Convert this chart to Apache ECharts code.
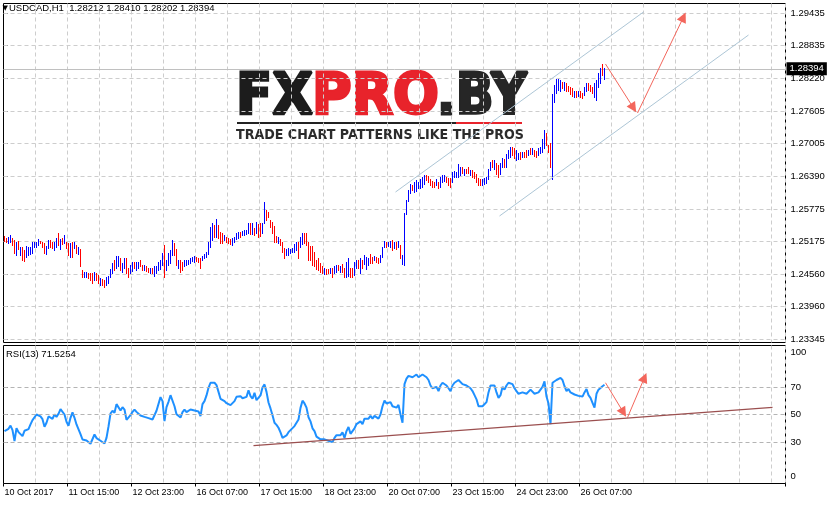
<!DOCTYPE html>
<html><head><meta charset="utf-8">
<script src="https://cdn.jsdelivr.net/npm/echarts@6/dist/echarts.min.js"></script>
<style>html,body{margin:0;padding:0;background:#fff}#c{width:829px;height:505px}</style>
</head><body><div id="c"></div><script>
// ---------- data ----------
const tickLabels = ['10 Oct 2017','11 Oct 15:00','12 Oct 23:00','16 Oct 07:00','17 Oct 15:00','18 Oct 23:00','20 Oct 07:00','23 Oct 15:00','24 Oct 23:00','26 Oct 07:00'];
const priceTicks = [1.23345,1.23960,1.24560,1.25175,1.25775,1.26390,1.27005,1.27605,1.28220,1.28835,1.29435];
const rsiTicks = [0,30,50,70,100];
const rsiLevels = [30,50,70];
const bidPrice = 1.28394;
const headerText = 'USDCAD,H1  1.28212 1.28410 1.28202 1.28394';
const rsiText = 'RSI(13) 71.5254';

const highs = [
1.2527,1.2523,1.2526,1.2528,1.2524,1.2520,1.2516,1.2518,1.2507,1.2507,
1.2501,1.2508,1.2506,1.2507,1.2516,1.2516,1.2516,1.2521,1.2518,1.2516,
1.2513,1.2508,1.2520,1.2520,1.2515,1.2516,1.2523,1.2532,1.2521,1.2523,
1.2529,1.2515,1.2513,1.2513,1.2516,1.2516,1.2510,1.2506,1.2502,1.2463,
1.2460,1.2460,1.2457,1.2457,1.2457,1.2460,1.2458,1.2454,1.2448,1.2446,
1.2445,1.2450,1.2452,1.2465,1.2477,1.2482,1.2490,1.2490,1.2485,1.2477,
1.2485,1.2485,1.2468,1.2473,1.2479,1.2479,1.2479,1.2479,1.2482,1.2473,
1.2473,1.2471,1.2468,1.2468,1.2468,1.2470,1.2471,1.2479,1.2482,1.2495,
1.2510,1.2482,1.2495,1.2501,1.2520,1.2513,1.2502,1.2483,1.2482,1.2479,
1.2483,1.2482,1.2483,1.2485,1.2488,1.2490,1.2488,1.2485,1.2485,1.2490,
1.2493,1.2498,1.2516,1.2543,1.2551,1.2548,1.2558,1.2548,1.2535,1.2532,
1.2529,1.2526,1.2523,1.2521,1.2523,1.2526,1.2532,1.2535,1.2535,1.2537,
1.2538,1.2539,1.2552,1.2551,1.2551,1.2541,1.2554,1.2549,1.2551,1.2551,
1.2591,1.2576,1.2571,1.2557,1.2554,1.2546,1.2527,1.2526,1.2521,1.2515,
1.2504,1.2502,1.2504,1.2502,1.2504,1.2512,1.2515,1.2515,1.2526,1.2533,
1.2532,1.2532,1.2515,1.2508,1.2508,1.2498,1.2482,1.2485,1.2476,1.2471,
1.2467,1.2465,1.2465,1.2467,1.2467,1.2470,1.2473,1.2473,1.2471,1.2475,
1.2467,1.2479,1.2485,1.2468,1.2467,1.2479,1.2482,1.2483,1.2485,1.2483,
1.2491,1.2488,1.2485,1.2493,1.2488,1.2490,1.2487,1.2485,1.2491,1.2507,
1.2518,1.2516,1.2516,1.2518,1.2520,1.2516,1.2516,1.2518,1.2510,1.2491,
1.2569,1.2595,1.2612,1.2625,1.2622,1.2628,1.2631,1.2628,1.2633,1.2638,
1.2641,1.2641,1.2639,1.2633,1.2630,1.2628,1.2633,1.2628,1.2638,1.2641,
1.2641,1.2638,1.2636,1.2635,1.2647,1.2649,1.2647,1.2661,1.2656,1.2656,
1.2653,1.2653,1.2656,1.2650,1.2650,1.2647,1.2643,1.2635,1.2633,1.2633,
1.2635,1.2638,1.2653,1.2666,1.2669,1.2669,1.2664,1.2659,1.2663,1.2672,
1.2670,1.2681,1.2687,1.2694,1.2694,1.2691,1.2687,1.2682,1.2684,1.2684,
1.2684,1.2687,1.2687,1.2691,1.2691,1.2687,1.2686,1.2691,1.2694,1.2709,
1.2725,1.2719,1.2697,1.2700,1.2793,1.2809,1.2821,1.2820,1.2818,1.2815,
1.2815,1.2812,1.2807,1.2806,1.2803,1.2798,1.2797,1.2797,1.2797,1.2795,
1.2806,1.2813,1.2812,1.2809,1.2806,1.2812,1.2818,1.2831,1.2840,1.2848,
1.2841];

const lows = [
1.2518,1.2515,1.2513,1.2516,1.2510,1.2495,1.2491,1.2502,1.2491,1.2482,
1.2481,1.2488,1.2491,1.2493,1.2496,1.2506,1.2507,1.2510,1.2513,1.2507,
1.2495,1.2493,1.2504,1.2506,1.2504,1.2501,1.2506,1.2510,1.2502,1.2512,
1.2513,1.2504,1.2491,1.2488,1.2488,1.2504,1.2495,1.2493,1.2471,1.2450,
1.2450,1.2450,1.2448,1.2445,1.2440,1.2445,1.2445,1.2440,1.2435,1.2435,
1.2431,1.2435,1.2440,1.2450,1.2458,1.2463,1.2467,1.2471,1.2463,1.2460,
1.2467,1.2458,1.2450,1.2457,1.2462,1.2468,1.2463,1.2468,1.2471,1.2463,
1.2463,1.2462,1.2460,1.2458,1.2457,1.2452,1.2457,1.2463,1.2465,1.2473,
1.2450,1.2463,1.2473,1.2476,1.2491,1.2491,1.2473,1.2468,1.2460,1.2463,
1.2471,1.2473,1.2475,1.2477,1.2481,1.2479,1.2481,1.2479,1.2468,1.2482,
1.2485,1.2488,1.2493,1.2507,1.2520,1.2526,1.2526,1.2523,1.2513,1.2513,
1.2520,1.2515,1.2513,1.2512,1.2510,1.2516,1.2521,1.2523,1.2526,1.2529,
1.2529,1.2531,1.2532,1.2531,1.2531,1.2529,1.2532,1.2526,1.2527,1.2532,
1.2551,1.2557,1.2562,1.2544,1.2533,1.2516,1.2515,1.2513,1.2510,1.2498,
1.2485,1.2491,1.2491,1.2495,1.2498,1.2498,1.2500,1.2485,1.2507,1.2512,
1.2513,1.2510,1.2483,1.2482,1.2473,1.2470,1.2465,1.2463,1.2460,1.2457,
1.2456,1.2456,1.2457,1.2457,1.2450,1.2457,1.2460,1.2463,1.2460,1.2460,
1.2450,1.2450,1.2452,1.2450,1.2450,1.2454,1.2468,1.2468,1.2458,1.2467,
1.2475,1.2465,1.2473,1.2477,1.2476,1.2482,1.2479,1.2476,1.2479,1.2488,
1.2506,1.2507,1.2508,1.2506,1.2500,1.2504,1.2502,1.2506,1.2485,1.2475,
1.2473,1.2568,1.2592,1.2607,1.2613,1.2610,1.2611,1.2616,1.2616,1.2619,
1.2625,1.2631,1.2628,1.2622,1.2619,1.2619,1.2622,1.2616,1.2619,1.2628,
1.2630,1.2628,1.2622,1.2619,1.2628,1.2638,1.2638,1.2638,1.2641,1.2644,
1.2641,1.2644,1.2645,1.2641,1.2638,1.2635,1.2628,1.2622,1.2622,1.2622,
1.2625,1.2626,1.2633,1.2650,1.2656,1.2653,1.2643,1.2638,1.2643,1.2656,
1.2656,1.2656,1.2672,1.2675,1.2678,1.2672,1.2669,1.2670,1.2670,1.2675,
1.2675,1.2675,1.2678,1.2681,1.2680,1.2676,1.2675,1.2678,1.2682,1.2684,
1.2691,1.2697,1.2684,1.2656,1.2634,1.2778,1.2795,1.2800,1.2798,1.2803,
1.2800,1.2797,1.2797,1.2792,1.2788,1.2787,1.2787,1.2788,1.2787,1.2784,
1.2790,1.2797,1.2800,1.2797,1.2795,1.2786,1.2781,1.2806,1.2812,1.2828,
1.2820];

const upBar = [
0,0,1,1,0,0,1,0,1,0, 0,1,1,1,1,1,1,1,0,0, 0,1,1,0,0,1,1,0,1,0, 1,0,0,1,0,1,0,1,0,0,
1,1,0,0,0,1,0,0,1,0, 0,1,1,1,1,0,1,1,0,1, 1,0,0,1,1,0,1,1,0,0, 1,0,0,1,0,1,1,1,1,1,
0,1,1,1,1,0,0,1,0,0, 1,1,1,1,1,1,0,0,0,1, 1,1,1,1,1,0,1,0,0,0, 1,0,0,0,1,1,1,1,0,1,
1,1,1,0,1,0,1,0,0,1, 1,0,0,0,0,0,0,1,0,0, 0,1,1,1,1,1,1,0,1,1, 0,0,0,0,0,0,0,0,0,0,
1,0,0,1,0,1,1,0,1,0, 0,1,1,0,0,1,1,0,1,0, 1,1,1,0,0,1,0,0,1,1, 1,0,1,1,0,1,0,1,0,1,
1,1,1,1,0,1,1,1,1,1, 1,0,0,0,0,0,1,0,1,1, 1,0,0,0,1,1,1,1,1,0, 1,0,0,1,0,0,0,0,0,1,
1,1,1,1,0,1,0,0,1,1, 0,1,1,1,0,0,1,1,0,1, 0,0,1,0,1,0,0,1,1,1, 1,0,0,0,1,1,1,1,1,0,
1,0,0,0,0,1,0,1,0,0, 1,1,0,0,0,1,1,1,1,0, 1];

const rsi = [
37.9,38.7,39.6,42.0,38.7,30.7,40.1,37.2,36.7,34.3,
38.2,38.7,39.4,42.8,45.9,46.9,50.0,50.7,48.6,46.6,
41.1,44.0,48.6,47.6,46.9,50.0,48.3,50.5,53.9,54.4,
50.0,44.7,41.8,47.6,51.5,47.6,42.8,43.7,35.8,31.9,
31.9,31.2,30.2,28.8,27.8,35.5,32.9,31.7,31.0,30.0,
29.0,33.1,41.3,50.7,52.7,51.2,57.5,56.8,52.9,55.3,
53.6,46.1,46.6,49.5,51.9,53.6,51.9,51.7,49.3,48.3,
48.3,47.8,47.4,46.6,46.4,46.4,52.7,53.9,62.6,59.7,
45.2,55.3,59.2,64.0,63.5,56.0,50.2,49.3,47.8,51.7,
53.6,51.7,53.1,53.6,53.4,52.9,52.9,52.2,48.8,57.5,
59.7,63.8,69.3,73.0,73.0,73.0,71.3,66.4,61.4,60.4,
59.7,58.2,57.0,56.8,58.0,59.7,62.8,63.3,63.3,61.8,
62.1,62.8,67.6,63.3,61.4,65.7,60.4,59.4,63.8,69.6,
71.8,66.4,58.7,54.4,49.5,44.0,42.5,40.4,37.0,33.1,
33.1,34.8,37.2,38.7,40.1,41.6,44.0,46.4,54.8,60.0,
58,55,48,45,40,38,34,35,32,31,
32,31,31,32,30,33,35,34,35,37,
33,38,41,36,35,40,43,42,45,43,
47,46,47,49,47,49,48,47,50,56,
60,58,58,59,56,57,55,57,50,44,
72,76,78,79,77,78,79,77,78,79,
80,77,75,71,69,68,70,67,71,73,
73,71,69,67,71,73,72,75,74,72,
71,71,71,69,67,64,61,56,55,56,
57,59,66,71,71,71,66,62,64,70,
68,71,73,74,72,69,67,65,64,66,
65,65,66,68,68,65,64,66,67,70,
74,63,58,43,73,74,75,76,76.5,75,
70.5,67,68.5,66,65,64.5,63.5,63.5,63,63,
66,68.5,64,62,58.5,55,65,68,67,70.5,
71.5254];

// drawn objects (bar index, price / rsi value)
const upperChannel = [[195.5,1.26091],[319.5,1.29454]];
const lowerChannel = [[247.5,1.25643],[372,1.29024]];
const priceArrows = [[[300.5,1.28483],[314.5,1.27661]],[[316.5,1.27567],[339.5,1.29360]]];
const rsiTrend = [[124.5,27.5],[384,55.1]];
const rsiArrows = [[[300.5,73.0],[309.5,51.4]],[[311.5,47.8],[320,76.8]]];

// ---------- chart ----------
const N = 391; // bar slots across the window (incl. empty right area)
const cats = Array.from({length: N}, (_, i) => String(i));
const FONT = '"Liberation Sans", Arial, sans-serif';
const GRID_LINE = '#cdcdcd';
const labelIdx = i => i % 32 === 0 && i <= 288;
const gridIdx = i => i % 16 === 0 && i > 0;

const mctx = document.createElement('canvas').getContext('2d');
function textW(t, font) { mctx.font = font; return mctx.measureText(t).width; }

const LOGO_FONT = 'bold 57px "DejaVu Sans"';
const logoParts = [
  {text: 'FX', x0: 236, x1: 313, fill: '#1c1c1c'},
  {text: 'PRO', x0: 312, x1: 439, fill: '#e8232b'},
  {text: '.BY', x0: 437, x1: 527, fill: '#262626'}
];
const TAG_FONT = 'bold 13.5px "DejaVu Sans"';
const tagText = 'TRADE CHART PATTERNS LIKE THE PROS';

const graphic = [];
logoParts.forEach(p => {
  const w = textW(p.text, LOGO_FONT);
  graphic.push({type: 'text', x: p.x0, y: 99, scaleX: (p.x1 - p.x0) / w, silent: true,
    style: {text: p.text, font: LOGO_FONT, fill: p.fill, stroke: p.fill, lineWidth: 3, lineJoin: 'round',
            align: 'left', verticalAlign: 'middle', textAlign: 'left', textVerticalAlign: 'middle'}});
});
graphic.push({type: 'rect', silent: true, shape: {x: 237, y: 122, width: 219, height: 2}, style: {fill: '#222'}});
graphic.push({type: 'rect', silent: true, shape: {x: 456, y: 122, width: 66, height: 2}, style: {fill: '#e8232b'}});
graphic.push({type: 'text', x: 236, y: 135, scaleX: 288 / textW(tagText, TAG_FONT), silent: true,
  style: {text: tagText, font: TAG_FONT, fill: '#2b2b2b', align: 'left', verticalAlign: 'middle', textAlign: 'left', textVerticalAlign: 'middle'}});
graphic.push({type: 'text', x: 2.5, y: 8, silent: true,
  style: {text: '▼', font: '7px "DejaVu Sans"', fill: '#000', align: 'left', verticalAlign: 'middle', textAlign: 'left', textVerticalAlign: 'middle'}});
graphic.push({type: 'text', x: 9, y: 8.5, silent: true,
  style: {text: headerText, font: '9.5px ' + FONT, fill: '#000', align: 'left', verticalAlign: 'middle', textAlign: 'left', textVerticalAlign: 'middle'}});
graphic.push({type: 'text', x: 6, y: 354, silent: true,
  style: {text: rsiText, font: '9.5px ' + FONT, fill: '#000', align: 'left', verticalAlign: 'middle', textAlign: 'left', textVerticalAlign: 'middle'}});

const arrowColor = '#f3665c';
function arrowMark(list) {
  return {silent: true, animation: false, precision: 6, symbol: ['none', 'triangle'], symbolSize: 10,
    label: {show: false}, lineStyle: {color: arrowColor, width: 1, type: 'solid'},
    itemStyle: {color: arrowColor},
    data: list.map(s => [{coord: s[0]}, {coord: s[1]}])};
}

const option = {
  animation: false,
  backgroundColor: '#fff',
  textStyle: {fontFamily: FONT},
  grid: [
    {left: 3.5, top: 3.5, width: 782, height: 339, show: true, borderColor: '#000', borderWidth: 1, backgroundColor: 'transparent'},
    {left: 3.5, top: 345.5, width: 782, height: 138, show: true, borderColor: '#000', borderWidth: 1, backgroundColor: 'transparent'}
  ],
  xAxis: [
    {type: 'category', gridIndex: 0, data: cats, boundaryGap: true,
     axisLine: {show: false}, axisTick: {show: false}, axisLabel: {show: false},
     splitLine: {show: true, interval: gridIdx, lineStyle: {color: GRID_LINE, type: [4, 3], width: 1}}},
    {type: 'category', gridIndex: 1, data: cats, boundaryGap: true,
     axisLine: {show: false},
     axisTick: {show: true, interval: labelIdx, length: 3, lineStyle: {color: '#000'}},
     axisLabel: {show: true, interval: labelIdx, align: 'left', margin: 5, fontSize: 9, fontFamily: FONT, color: '#000',
       formatter: (v, i) => tickLabels[i / 32] || ''},
     splitLine: {show: true, interval: gridIdx, lineStyle: {color: GRID_LINE, type: [4, 3], width: 1}}},
    {type: 'value', gridIndex: 0, min: -0.5, max: N - 0.5, show: false},
    {type: 'value', gridIndex: 1, min: -0.5, max: N - 0.5, show: false}
  ],
  yAxis: [
    {type: 'value', gridIndex: 0, position: 'right', min: 1.2328, max: 1.29613,
     axisLine: {show: false}, splitLine: {show: false},
     axisTick: {show: true, customValues: priceTicks, length: 3, lineStyle: {color: '#000'}},
     axisLabel: {show: true, customValues: priceTicks, margin: 5, fontSize: 9.5, fontFamily: FONT, color: '#000',
       formatter: v => v.toFixed(5)}},
    {type: 'value', gridIndex: 1, position: 'right', min: 0, max: 100,
     axisLine: {show: false}, splitLine: {show: false},
     axisTick: {show: true, customValues: rsiLevels, length: 3, lineStyle: {color: '#000'}},
     axisLabel: {show: true, customValues: rsiTicks, margin: 5, fontSize: 9.5, fontFamily: FONT, color: '#000',
       formatter: v => v === 100 ? '{t|100}' : (v === 0 ? '{b|0}' : String(v)),
       rich: {t: {padding: [14, 0, 0, 0], fontSize: 9.5, fontFamily: FONT, color: '#000'},
              b: {padding: [0, 0, 14, 0], fontSize: 9.5, fontFamily: FONT, color: '#000'}}}}
  ],
  graphic: graphic,
  series: [
    {type: 'line', name: 'priceGrid', xAxisIndex: 2, yAxisIndex: 0, data: [], symbol: 'none', silent: true, z: 1,
     markLine: {silent: true, animation: false, precision: 6, symbol: ['none', 'none'], label: {show: false},
       data: priceTicks.map(v => ({yAxis: v, lineStyle: {color: GRID_LINE, type: [4, 3], width: 1}})).concat([
         {yAxis: bidPrice, lineStyle: {color: '#c0c0c0', type: 'solid', width: 1},
          label: {show: true, position: 'end', formatter: bidPrice.toFixed(5), color: '#fff', backgroundColor: '#000',
                  padding: [2, 3, 1, 3], fontSize: 9.5, fontFamily: FONT, distance: 1}}
       ])}},
    {type: 'custom', name: 'USDCAD', xAxisIndex: 0, yAxisIndex: 0, silent: true, z: 5,
     data: highs.map((h, k) => [k, lows[k], h, upBar[k]]),
     encode: {x: 0, y: [1, 2]},
     renderItem: (params, api) => {
       const k = api.value(0);
       const top = api.coord([k, api.value(2)]);
       const bot = api.coord([k, api.value(1)]);
       const x = Math.floor(top[0]) + 0.5;
       return {type: 'line', shape: {x1: x, y1: Math.round(top[1]), x2: x, y2: Math.round(bot[1]) + 1},
               style: {stroke: api.value(3) ? '#0000ff' : '#ff0000', lineWidth: 1}};
     }},
    {type: 'line', name: 'upper', xAxisIndex: 2, yAxisIndex: 0, data: upperChannel, symbol: 'none', silent: true, z: 6,
     lineStyle: {color: '#adc6d6', width: 1}},
    {type: 'line', name: 'lower', xAxisIndex: 2, yAxisIndex: 0, data: lowerChannel, symbol: 'none', silent: true, z: 6,
     lineStyle: {color: '#adc6d6', width: 1}, markLine: arrowMark(priceArrows)},
    {type: 'line', name: 'levels', xAxisIndex: 3, yAxisIndex: 1, data: [], symbol: 'none', silent: true, z: 1,
     markLine: {silent: true, animation: false, symbol: ['none', 'none'], label: {show: false},
       lineStyle: {color: '#b4b4b4', type: [4, 3], width: 1}, data: rsiLevels.map(v => ({yAxis: v}))}},
    {type: 'line', name: 'RSI', xAxisIndex: 1, yAxisIndex: 1, data: rsi, symbol: 'none', silent: true, z: 4,
     lineStyle: {color: '#1e90ff', width: 2}},
    {type: 'line', name: 'trend', xAxisIndex: 3, yAxisIndex: 1, data: rsiTrend, symbol: 'none', silent: true, z: 5,
     lineStyle: {color: '#9b4f4f', width: 1.3}, markLine: arrowMark(rsiArrows)}
  ]
};

const chart = echarts.init(document.getElementById('c'), null, {renderer: 'canvas'});
chart.setOption(option);
</script></body></html>
